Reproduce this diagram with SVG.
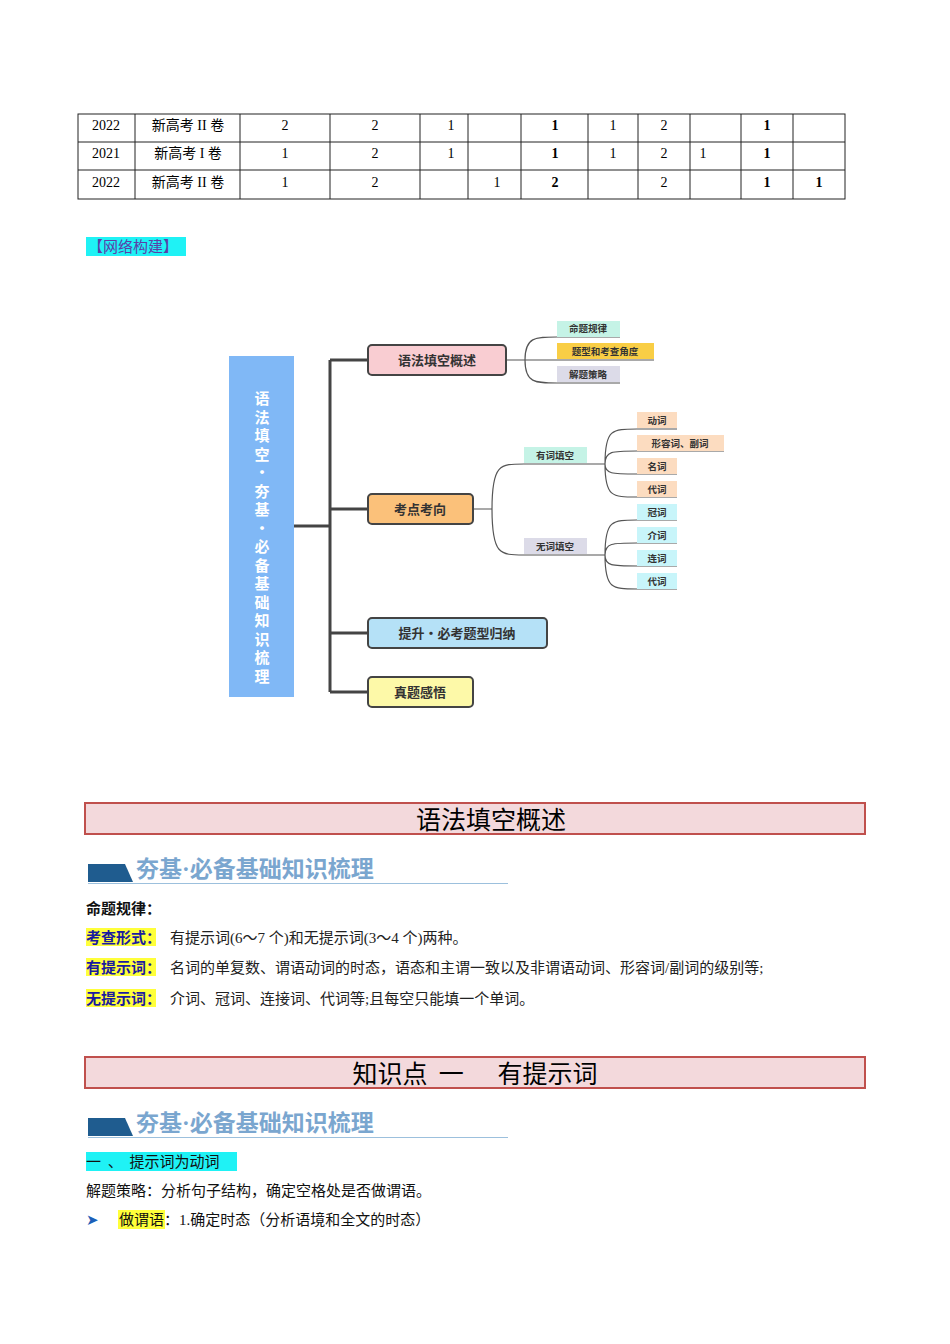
<svg xmlns="http://www.w3.org/2000/svg" width="950" height="1344" viewBox="0 0 950 1344">
<style>
.t{font-family:"Liberation Serif","Noto Sans CJK SC",serif;font-size:14px;fill:#000}
.c{text-anchor:middle}
.b{font-family:"Noto Sans CJK SC",sans-serif;font-weight:bold}
.n{font-family:"Noto Sans CJK SC",sans-serif;font-weight:normal}
.box{stroke:#444;stroke-width:2}
.lf{font-family:"Noto Sans CJK SC",sans-serif;font-size:9.5px;font-weight:bold;fill:#333;text-anchor:middle}
.cn{fill:none;stroke:#555;stroke-width:1.2}
.tr{fill:none;stroke:#444;stroke-width:3}
.hd{fill:#f3d9dc;stroke:#c0504d;stroke-width:2}
.ht{font-family:"Noto Sans CJK SC",sans-serif;font-size:25px;fill:#000;text-anchor:middle}
.bn{font-family:"Liberation Serif","Noto Sans CJK SC",serif;font-size:23px;font-weight:bold;fill:#7aa6cf}
.body{font-family:"Liberation Serif","Noto Sans CJK SC",serif;font-size:15px;fill:#222}
.kw{font-family:"Noto Sans CJK SC",sans-serif;font-size:15px;fill:#1a1aa0;font-weight:bold}
</style>
<g id="table" fill="none" stroke="#222" stroke-width="1">
<rect x="78" y="114" width="767" height="85"/>
<path d="M78 142H845M78 170H845M135 114V199M240 114V199M330 114V199M420 114V199M468 114V199M521 114V199M588 114V199M638 114V199M690 114V199M741 114V199M793 114V199"/>
</g>
<g id="table-text" class="t c">
<text x="106" y="130">2022</text><text x="188" y="130">新高考 II 卷</text><text x="285" y="130">2</text><text x="375" y="130">2</text><text x="451" y="130">1</text><text x="555" y="130" font-weight="bold">1</text><text x="613" y="130">1</text><text x="664" y="130">2</text><text x="767" y="130" font-weight="bold">1</text>
<text x="106" y="158">2021</text><text x="188" y="158">新高考 I 卷</text><text x="285" y="158">1</text><text x="375" y="158">2</text><text x="451" y="158">1</text><text x="555" y="158" font-weight="bold">1</text><text x="613" y="158">1</text><text x="664" y="158">2</text><text x="703" y="158">1</text><text x="767" y="158" font-weight="bold">1</text>
<text x="106" y="187">2022</text><text x="188" y="187">新高考 II 卷</text><text x="285" y="187">1</text><text x="375" y="187">2</text><text x="497" y="187">1</text><text x="555" y="187" font-weight="bold">2</text><text x="664" y="187">2</text><text x="767" y="187" font-weight="bold">1</text><text x="819" y="187" font-weight="bold">1</text>
</g>
<g id="net-title"><rect x="86" y="237" width="100" height="19" fill="#1ff2f5"/><text x="88" y="252" font-family="Noto Sans CJK SC,sans-serif" font-size="15" fill="#5b3fa8">【网络构建】</text></g>
<g id="connectors">
<path class="tr" d="M294 526H330M330 360V692M330 360H368M330 509H368M330 633H368M330 692H368"/>
<path class="cn" d="M506 360H525M525 360C525 337 535 337 557 337H620M525 360H654M525 360C525 383 535 383 557 383H620"/>
<path class="cn" d="M473 509H492M492 509C492 464 500 464 524 464H587M492 509C492 555 500 555 524 555H587"/>
<path class="cn" d="M587 464H605M605 464C605 429 612 429 637 429H677M605 464C605 451 612 451 637 451H724M605 464C605 474 612 474 637 474H677M605 464C605 497 612 497 637 497H677"/>
<path class="cn" d="M587 555H605M605 555C605 520 612 520 637 520H677M605 555C605 543 612 543 637 543H677M605 555C605 566 612 566 637 566H677M605 555C605 589 612 589 637 589H677"/>
</g>
<g id="root"><rect x="229" y="356" width="65" height="341" fill="#80b8f6"/>
<text class="b" font-size="15" fill="#fff" text-anchor="middle"><tspan x="262" y="404">语</tspan><tspan x="262" y="422.5">法</tspan><tspan x="262" y="441">填</tspan><tspan x="262" y="459.5">空</tspan><tspan x="262" y="478">·</tspan><tspan x="262" y="496.5">夯</tspan><tspan x="262" y="515">基</tspan><tspan x="262" y="533.5">·</tspan><tspan x="262" y="552">必</tspan><tspan x="262" y="570.5">备</tspan><tspan x="262" y="589">基</tspan><tspan x="262" y="607.5">础</tspan><tspan x="262" y="626">知</tspan><tspan x="262" y="644.5">识</tspan><tspan x="262" y="663">梳</tspan><tspan x="262" y="681.5">理</tspan></text></g>
<g id="n1"><rect class="box" x="368" y="345" width="138" height="30" rx="4" fill="#f9cdd2"/><text class="b" x="437" y="365" font-size="13" text-anchor="middle" fill="#333">语法填空概述</text></g>
<g id="n2"><rect class="box" x="368" y="494" width="105" height="30" rx="4" fill="#fbc17a"/><text class="b" x="420" y="514" font-size="13" text-anchor="middle" fill="#333">考点考向</text></g>
<g id="n3"><rect class="box" x="368" y="618" width="179" height="30" rx="4" fill="#b5e1f7"/><text class="b" x="457" y="638" font-size="13" text-anchor="middle" fill="#333">提升·必考题型归纳</text></g>
<g id="n4"><rect class="box" x="368" y="677" width="105" height="30" rx="4" fill="#fdf9a8"/><text class="b" x="420" y="697" font-size="13" text-anchor="middle" fill="#333">真题感悟</text></g>
<g id="l1"><rect x="557" y="321" width="63" height="16" fill="#c5f3e6"/><text class="lf" x="588" y="332">命题规律</text></g>
<g id="l2"><rect x="557" y="343" width="97" height="16" fill="#f9ce45"/><text class="lf" x="605" y="355">题型和考查角度</text></g>
<g id="l3"><rect x="557" y="366" width="63" height="16" fill="#dcdbe8"/><text class="lf" x="588" y="378">解题策略</text></g>
<g id="m1"><rect x="524" y="447" width="63" height="16" fill="#c5f3e6"/><text class="lf" x="555" y="459">有词填空</text></g>
<g id="m2"><rect x="524" y="538" width="63" height="16" fill="#dcdbe8"/><text class="lf" x="555" y="550">无词填空</text></g>
<g id="k1"><rect x="637" y="412" width="40" height="16" fill="#fcdcc0"/><text class="lf" x="657" y="424">动词</text></g>
<g id="k2"><rect x="637" y="435" width="87" height="16" fill="#fcdcc0"/><text class="lf" x="680" y="447">形容词、副词</text></g>
<g id="k3"><rect x="637" y="458" width="40" height="16" fill="#fcdcc0"/><text class="lf" x="657" y="470">名词</text></g>
<g id="k4"><rect x="637" y="481" width="40" height="16" fill="#fcdcc0"/><text class="lf" x="657" y="493">代词</text></g>
<g id="k5"><rect x="637" y="504" width="40" height="16" fill="#c8f5fa"/><text class="lf" x="657" y="516">冠词</text></g>
<g id="k6"><rect x="637" y="527" width="40" height="16" fill="#c8f5fa"/><text class="lf" x="657" y="539">介词</text></g>
<g id="k7"><rect x="637" y="550" width="40" height="16" fill="#c8f5fa"/><text class="lf" x="657" y="562">连词</text></g>
<g id="k8"><rect x="637" y="573" width="40" height="16" fill="#c8f5fa"/><text class="lf" x="657" y="585">代词</text></g>
<g id="sec1"><rect class="hd" x="85" y="803" width="780" height="31"/><text class="ht" x="491" y="829">语法填空概述</text></g>
<g id="ban1"><path d="M88 864H125L133 882H88Z" fill="#1f5c8f"/><path d="M88 883.5H508" stroke="#9cc0dd" stroke-width="1.2"/><text class="bn" x="136" y="877">夯基·必备基础知识梳理</text></g>
<g id="body1">
<text class="b" x="86" y="914" font-size="15" fill="#111">命题规律：</text>
<rect x="86" y="928" width="70" height="18" fill="#ffff3a"/><text class="kw" x="86" y="943">考查形式：</text><text class="body" x="170" y="943">有提示词(6～7 个)和无提示词(3～4 个)两种。</text>
<rect x="86" y="958" width="70" height="18" fill="#ffff3a"/><text class="kw" x="86" y="973">有提示词：</text><text class="body" x="170" y="973">名词的单复数、谓语动词的时态，语态和主谓一致以及非谓语动词、形容词/副词的级别等;</text>
<rect x="86" y="989" width="70" height="18" fill="#ffff3a"/><text class="kw" x="86" y="1004">无提示词：</text><text class="body" x="170" y="1004">介词、冠词、连接词、代词等;且每空只能填一个单词。</text>
</g>
<g id="sec2"><rect class="hd" x="85" y="1057" width="780" height="31"/><text class="ht" x="475" y="1083" xml:space="preserve">知识点  一      有提示词</text></g>
<g id="ban2"><path d="M88 1118H125L133 1136H88Z" fill="#1f5c8f"/><path d="M88 1137.5H508" stroke="#9cc0dd" stroke-width="1.2"/><text class="bn" x="136" y="1131">夯基·必备基础知识梳理</text></g>
<g id="body2">
<rect x="86" y="1152" width="151" height="19" fill="#1ff2f5"/><text class="n" x="86" y="1167" font-size="15" fill="#111" xml:space="preserve">一  、  提示词为动词</text>
<text class="n" x="86" y="1196" font-size="15" fill="#111">解题策略：分析句子结构，确定空格处是否做谓语。</text>
<text x="86" y="1225" font-family="DejaVu Sans,sans-serif" font-size="15" fill="#1c5fb8">➤</text>
<rect x="118" y="1210" width="47" height="19" fill="#ffff3a"/><text class="n" x="119" y="1225" font-size="15" fill="#111">做谓语<tspan font-family="Liberation Serif,Noto Sans CJK SC,serif">：1.确定时态（分析语境和全文的时态）</tspan></text>
</g>
</svg>
